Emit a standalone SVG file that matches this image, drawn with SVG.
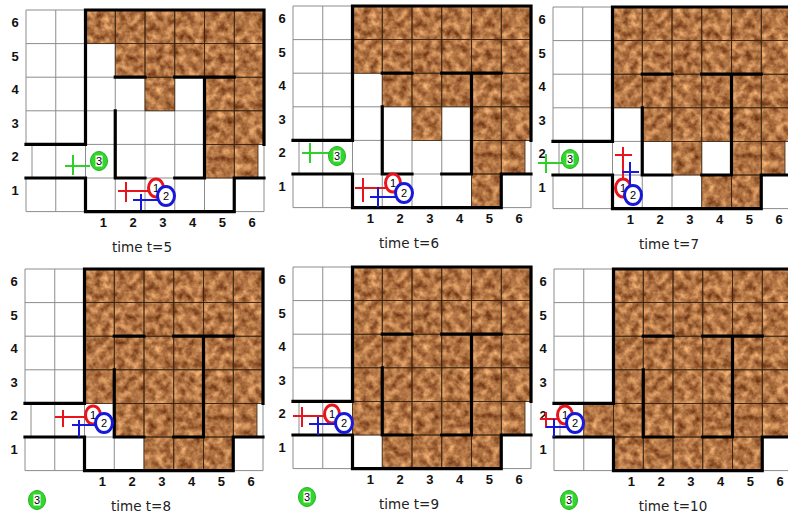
<svg xmlns="http://www.w3.org/2000/svg" width="788" height="517" viewBox="0 0 788 517">
<style>
.grid{fill:none;stroke:#8c8c8c;stroke-width:1}
.br{fill:#b7763e;filter:url(#tex)}
.bl{fill:none;stroke:#3a2410;stroke-width:0.8}
.wall{fill:none;stroke:#000;stroke-width:3.2;stroke-linecap:square}
.rl{font-family:"Liberation Sans",Arial,sans-serif;font-weight:bold;font-size:13px;text-anchor:middle;fill:#111}
.tt{font-family:"DejaVu Sans",Verdana,sans-serif;font-size:13.5px;text-anchor:middle;fill:#222}
.r{fill:none;stroke:#e8141c;stroke-width:2}
.b{fill:none;stroke:#1818d8;stroke-width:2}
.g{fill:none;stroke:#2ed02a;stroke-width:2}
.rc{fill:#fff;stroke:#e8141c;stroke-width:3}
.bc{fill:#fff;stroke:#1818d8;stroke-width:3}
.gc{fill:#30d82a;stroke:#22b020;stroke-width:1}
.d{font-family:"Liberation Sans",Arial,sans-serif;font-size:11px;text-anchor:middle;fill:#000}
</style>
<defs>
<filter id="tex" x="0" y="0" width="1" height="1" color-interpolation-filters="sRGB">
<feTurbulence type="fractalNoise" baseFrequency="0.13" numOctaves="3" seed="7" result="n"/>
<feColorMatrix in="n" type="matrix" values="0.75 0 0 0 0.325  0.7 0 0 0 0.11  0.55 0 0 0 -0.005  0 0 0 0 1" result="c"/>
<feComposite in="c" in2="SourceGraphic" operator="in"/>
</filter>
<rect id="c" width="29.75" height="33.6"/>
<rect id="n" width="23.75" height="33.6"/>
<g id="R"><use href="#c" x="59.5"/><use href="#c" x="89.25"/><use href="#c" x="119"/><use href="#c" x="148.75"/><use href="#c" x="178.5"/><use href="#c" x="208.25"/></g>
<g id="F4"><use href="#R"/><use href="#R" y="33.6"/><use href="#R" y="67.2"/><use href="#R" y="100.8"/></g>
<g id="b1"><use href="#R"/>
<use href="#c" x="89.25" y="33.6"/><use href="#c" x="119" y="33.6"/><use href="#c" x="148.75" y="33.6"/><use href="#c" x="178.5" y="33.6"/><use href="#c" x="208.25" y="33.6"/>
<use href="#c" x="119" y="67.2"/><use href="#c" x="178.5" y="67.2"/><use href="#c" x="208.25" y="67.2"/>
<use href="#c" x="178.5" y="100.8"/><use href="#c" x="208.25" y="100.8"/>
<use href="#c" x="178.5" y="134.4"/><use href="#n" x="208.25" y="134.4"/></g>
<g id="b2"><use href="#R"/><use href="#R" y="33.6"/>
<use href="#c" x="89.25" y="67.2"/><use href="#c" x="119" y="67.2"/><use href="#c" x="148.75" y="67.2"/><use href="#c" x="178.5" y="67.2"/><use href="#c" x="208.25" y="67.2"/>
<use href="#c" x="119" y="100.8"/><use href="#c" x="178.5" y="100.8"/><use href="#c" x="208.25" y="100.8"/>
<use href="#c" x="178.5" y="134.4"/><use href="#n" x="208.25" y="134.4"/>
<use href="#c" x="178.5" y="168"/></g>
<g id="b3"><use href="#R"/><use href="#R" y="33.6"/><use href="#R" y="67.2"/>
<use href="#c" x="89.25" y="100.8"/><use href="#c" x="119" y="100.8"/><use href="#c" x="148.75" y="100.8"/><use href="#c" x="178.5" y="100.8"/><use href="#c" x="208.25" y="100.8"/>
<use href="#c" x="119" y="134.4"/><use href="#c" x="178.5" y="134.4"/><use href="#n" x="208.25" y="134.4"/>
<use href="#c" x="148.75" y="168"/><use href="#c" x="178.5" y="168"/></g>
<g id="b4"><use href="#F4"/>
<use href="#c" x="89.25" y="134.4"/><use href="#c" x="119" y="134.4"/><use href="#c" x="148.75" y="134.4"/><use href="#c" x="178.5" y="134.4"/><use href="#n" x="208.25" y="134.4"/>
<use href="#c" x="119" y="168"/><use href="#c" x="148.75" y="168"/><use href="#c" x="178.5" y="168"/></g>
<g id="b5"><use href="#F4"/>
<use href="#c" x="59.5" y="134.4"/><use href="#c" x="89.25" y="134.4"/><use href="#c" x="119" y="134.4"/><use href="#c" x="148.75" y="134.4"/><use href="#c" x="178.5" y="134.4"/><use href="#n" x="208.25" y="134.4"/>
<use href="#c" x="89.25" y="168"/><use href="#c" x="119" y="168"/><use href="#c" x="148.75" y="168"/><use href="#c" x="178.5" y="168"/></g>
<g id="b6"><use href="#F4"/>
<use href="#c" x="29.75" y="134.4"/><use href="#R" y="134.4"/>
<use href="#c" x="59.5" y="168"/><use href="#c" x="89.25" y="168"/><use href="#c" x="119" y="168"/><use href="#c" x="148.75" y="168"/><use href="#c" x="178.5" y="168"/></g>
<path id="gridp" d="M0,0V134.4M0,168V201.6M6,134.4V168M29.75,0V201.6M59.5,0V201.6M89.25,0V201.6M119,0V201.6M148.75,0V201.6M178.5,0V201.6M208.25,0V201.6M238,0V201.6M0,0H238M0,33.6H238M0,67.2H238M0,100.8H238M0,134.4H238M0,168H238M0,201.6H238"/>
<path id="walls" d="M59.5,0H238V134.4M59.5,0V134.4H0M0,168H59.5V201.6H208.25V168H238M89.25,67.2H119M148.75,67.2H208.25M89.25,100.8V168H119M178.5,67.2V168H148.75"/>
<g id="lab">
<text class="rl" x="-11" y="17">6</text><text class="rl" x="-11" y="50.5">5</text><text class="rl" x="-11" y="84">4</text><text class="rl" x="-11" y="117.5">3</text><text class="rl" x="-11" y="151">2</text><text class="rl" x="-11" y="185">1</text>
<text class="rl" x="77.4" y="217">1</text><text class="rl" x="107.1" y="217">2</text><text class="rl" x="136.9" y="217">3</text><text class="rl" x="166.6" y="217">4</text><text class="rl" x="196.4" y="217">5</text><text class="rl" x="226.1" y="217">6</text>
</g>
</defs>
<rect width="788" height="517" fill="#fff"/>

<g id="panel-t5" transform="translate(26,10)">
<use href="#gridp" class="grid"/><use href="#b1" class="br"/><use href="#b1" class="bl"/><use href="#walls" class="wall"/><use href="#lab"/>
<text class="tt" x="116" y="242">time t=5</text>
<path class="g" d="M47,145V165M39,156H64"/><ellipse class="gc" cx="73" cy="151" rx="8.5" ry="9.5"/><rect x="69.5" y="145.5" width="7" height="11" fill="#fff"/><text class="d" x="73" y="155">3</text>
<path class="r" d="M100,172V192M92,181H123"/><ellipse class="rc" cx="130" cy="178" rx="7.5" ry="9"/><text class="d" x="130" y="182">1</text>
<path class="b" d="M115,184V200M107,190H132"/><ellipse class="bc" cx="140" cy="186" rx="8.5" ry="9.5"/><text class="d" x="140" y="190">2</text>
</g>

<g id="panel-t6" transform="translate(293,6)">
<use href="#gridp" class="grid"/><use href="#b2" class="br"/><use href="#b2" class="bl"/><use href="#walls" class="wall"/><use href="#lab"/>
<text class="tt" x="116" y="242">time t=6</text>
<path class="g" d="M17,137V157M9,147H36"/><ellipse class="gc" cx="44" cy="150" rx="8.5" ry="9.5"/><rect x="40.5" y="144.5" width="7" height="11" fill="#fff"/><text class="d" x="44" y="154">3</text>
<path class="r" d="M70,172V196M62,182H93"/><ellipse class="rc" cx="100" cy="177" rx="7.5" ry="9"/><text class="d" x="100" y="181">1</text>
<path class="b" d="M85,181V201M77,191H103"/><ellipse class="bc" cx="111" cy="187" rx="8.5" ry="9.5"/><text class="d" x="111" y="191">2</text>
</g>

<g id="panel-t7" transform="translate(553,7)">
<use href="#gridp" class="grid"/><use href="#b3" class="br"/><use href="#b3" class="bl"/><use href="#walls" class="wall"/><use href="#lab"/>
<text class="tt" x="116" y="242">time t=7</text>
<path class="g" d="M-7,147V166M-15,156H9"/><ellipse class="gc" cx="17" cy="152" rx="8.5" ry="9.5"/><rect x="13.5" y="146.5" width="7" height="11" fill="#fff"/><text class="d" x="17" y="156">3</text>
<path class="r" d="M70,140V172M62,148H79"/><ellipse class="rc" cx="70" cy="181" rx="7.5" ry="9"/><text class="d" x="70" y="185">1</text>
<path class="b" d="M77,155V179M69,165H86"/><ellipse class="bc" cx="80" cy="188" rx="8.5" ry="9.5"/><text class="d" x="80" y="192">2</text>
</g>

<g id="panel-t8" transform="translate(25,269)">
<use href="#gridp" class="grid"/><use href="#b4" class="br"/><use href="#b4" class="bl"/><use href="#walls" class="wall"/><use href="#lab"/>
<text class="tt" x="116" y="242">time t=8</text>
<path class="r" d="M38,141V158M30,148H61"/><ellipse class="rc" cx="68" cy="146" rx="7.5" ry="9"/><text class="d" x="68" y="150">1</text>
<path class="b" d="M54,151V168M47,156H71"/><ellipse class="bc" cx="79" cy="154" rx="8.5" ry="9.5"/><text class="d" x="79" y="158">2</text>
<ellipse class="gc" cx="12" cy="231" rx="8.5" ry="9.5"/><rect x="8.5" y="225.5" width="7" height="11" fill="#fff"/><text class="d" x="12" y="235">3</text>
</g>

<g id="panel-t9" transform="translate(293,267)">
<use href="#gridp" class="grid"/><use href="#b5" class="br"/><use href="#b5" class="bl"/><use href="#walls" class="wall"/><use href="#lab"/>
<text class="tt" x="116" y="242">time t=9</text>
<path class="r" d="M9,140V160M0,149H32"/><ellipse class="rc" cx="39" cy="147" rx="7.5" ry="9"/><text class="d" x="39" y="151">1</text>
<path class="b" d="M25,150V168M16,157H43"/><ellipse class="bc" cx="51" cy="156" rx="8.5" ry="9.5"/><text class="d" x="51" y="160">2</text>
<ellipse class="gc" cx="14" cy="230" rx="8.5" ry="9.5"/><rect x="10.5" y="224.5" width="7" height="11" fill="#fff"/><text class="d" x="14" y="234">3</text>
</g>

<g id="panel-t10" transform="translate(554,269)">
<use href="#gridp" class="grid"/><use href="#b6" class="br"/><use href="#b6" class="bl"/><use href="#walls" class="wall"/><use href="#lab"/>
<text class="tt" x="119" y="242">time t=10</text>
<path class="r" d="M-8,143V159M-14,150H4"/><ellipse class="rc" cx="11" cy="146" rx="7.5" ry="9"/><text class="d" x="11" y="150">1</text>
<path class="b" d="M0,150V168M-8,158H13"/><ellipse class="bc" cx="21" cy="154" rx="8.5" ry="9.5"/><text class="d" x="21" y="158">2</text>
<ellipse class="gc" cx="15" cy="231" rx="8.5" ry="9.5"/><rect x="11.5" y="225.5" width="7" height="11" fill="#fff"/><text class="d" x="15" y="235">3</text>
</g>
</svg>
